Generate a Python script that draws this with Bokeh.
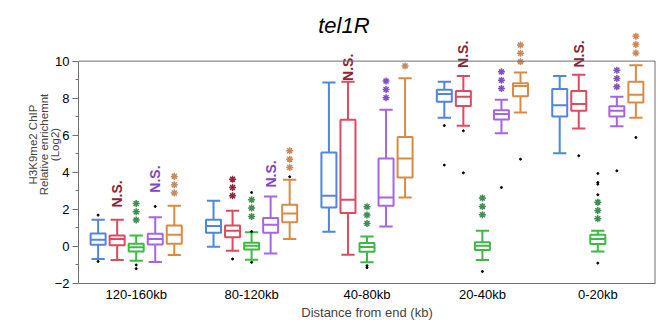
import numpy as np
from bokeh.plotting import figure
from bokeh.models import Range1d, FixedTicker, ColumnDataSource, Span
from bokeh.core.properties import value
from bokeh.embed import file_html
from bokeh.resources import INLINE

categories = ["120-160kb", "80-120kb", "40-80kb", "20-40kb", "0-20kb"]
series_names = ["s1", "s2", "s3", "s4", "s5"]
series_colors = ["#4f86df", "#de4a60", "#3dba45", "#a665e3", "#d98b43"]

# [whisker low, Q1, median, Q3, whisker high] per category
s1_stats = [[-0.68, 0.09, 0.36, 0.70, 1.44], [-0.02, 0.74, 1.10, 1.44, 2.46],
            [0.79, 2.10, 2.73, 5.07, 8.84], [6.95, 7.80, 8.22, 8.45, 8.88],
            [5.03, 7.01, 7.62, 8.50, 9.20]]
s2_stats = [[-0.73, 0.07, 0.40, 0.59, 1.44], [-0.23, 0.49, 0.85, 1.13, 1.92],
            [-0.45, 1.80, 2.52, 6.83, 8.88], [6.51, 7.58, 8.07, 8.39, 9.20],
            [6.36, 7.32, 7.68, 8.39, 9.26]]
s3_stats = [[-0.77, -0.27, -0.05, 0.15, 0.59], [-0.72, -0.16, 0.04, 0.20, 0.76],
            [-0.86, -0.29, -0.03, 0.18, 0.54], [-0.73, -0.19, 0.04, 0.22, 0.85],
            [-0.27, 0.13, 0.40, 0.63, 0.85]]
s4_stats = [[-0.84, 0.11, 0.40, 0.68, 1.58], [-0.38, 0.74, 1.17, 1.53, 2.70],
            [1.08, 2.19, 2.64, 4.74, 7.37], [6.11, 6.85, 7.14, 7.35, 7.91],
            [6.49, 7.01, 7.32, 7.57, 8.07]]
s5_stats = [[-0.46, 0.15, 0.63, 1.13, 2.19], [0.40, 1.31, 1.78, 2.25, 3.60],
            [2.64, 3.72, 4.74, 5.91, 9.08], [7.22, 8.11, 8.65, 8.81, 9.38],
            [6.95, 7.76, 8.18, 8.88, 9.78]]
all_stats = [s1_stats, s2_stats, s3_stats, s4_stats, s5_stats]

# outliers: category index, series index, value
outlier_cat = [0, 0, 0, 0, 0, 1, 1, 1, 1, 1, 2, 2, 3, 3, 3, 3, 3, 3, 3,
               4, 4, 4, 4, 4, 4, 4, 4, 4]
outlier_ser = [0, 0, 2, 2, 3, 1, 2, 2, 2, 4, 2, 2, 0, 0, 1, 1, 2, 3, 4,
               1, 2, 2, 2, 2, 2, 2, 3, 4]
outlier_val = [1.69, -0.81, -1.0, -1.2, 2.16, -0.68, 2.91, 0.80, -0.86, 3.76,
               -1.04, -1.15, 6.52, 4.39, 6.24, 3.97, -1.35, 3.18, 4.71,
               4.89, 3.94, 3.45, 3.36, 2.79, 2.46, -0.90, 4.08, 5.88]

# significance stars: category, series, number of stars, lowest star value
star_cat = [0, 0, 1, 1, 1, 2, 2, 2, 3, 3, 3, 4, 4, 4]
star_ser = [2, 4, 1, 2, 4, 2, 3, 4, 2, 3, 4, 2, 3, 4]
star_n = [3, 3, 3, 3, 3, 3, 3, 1, 3, 3, 3, 3, 3, 3]
star_base = [1.42, 2.88, 2.73, 1.62, 4.26, 1.24, 8.02, 9.74, 1.71, 8.52, 9.97,
             1.49, 8.61, 10.44]
star_colors = ["#4f86df", "#8e2a3c", "#3f8f52", "#8150c6", "#c98a5c"]

# "N.S." labels: category, series, bottom value
ns_cat = [0, 0, 1, 2, 3, 4]
ns_ser = [1, 3, 3, 1, 1, 1]
ns_base = [2.1, 2.9, 3.18, 8.93, 9.63, 9.65]
ns_colors = ["#4f86df", "#8b2335", "#3f8f52", "#7d47c2", "#c98a5c"]

title_text = "tel1R"

SPACING = 0.165
BOX_W = 0.13
CAP_W = 0.115
Y_TOP = 10

def xpos(ci, si):
    return ci + 0.5 + (si - 2) * SPACING

p = figure(width=661, height=323, output_backend="svg", toolbar_location=None,
           x_range=Range1d(0, 5), y_range=Range1d(-2, 13),
           min_border_left=78, min_border_right=6, min_border_top=5,
           min_border_bottom=40)
p.xgrid.visible = False
p.ygrid.visible = False
p.outline_line_color = None
p.background_fill_color = "white"
p.border_fill_color = "white"

FRAME_COL = "#707070"
p.add_layout(Span(location=Y_TOP, dimension="width", line_color=FRAME_COL, line_width=1))
p.segment(x0=[5], x1=[5], y0=[-2], y1=[Y_TOP], line_color=FRAME_COL, line_width=2)

for si, stats in enumerate(all_stats):
    col = series_colors[si]
    xs = [xpos(ci, si) for ci in range(len(categories))]
    lo = [s[0] for s in stats]
    q1 = [s[1] for s in stats]
    med = [s[2] for s in stats]
    q3 = [s[3] for s in stats]
    hi = [s[4] for s in stats]
    src = ColumnDataSource(dict(x=xs, lo=lo, q1=q1, med=med, q3=q3, hi=hi,
                                xl=[x - CAP_W / 2 for x in xs],
                                xr=[x + CAP_W / 2 for x in xs],
                                bl=[x - BOX_W / 2 for x in xs],
                                br=[x + BOX_W / 2 for x in xs]))
    p.segment(x0="x", x1="x", y0="lo", y1="q1", source=src, line_color=col, line_width=2)
    p.segment(x0="x", x1="x", y0="q3", y1="hi", source=src, line_color=col, line_width=2)
    p.segment(x0="xl", x1="xr", y0="lo", y1="lo", source=src, line_color=col, line_width=2)
    p.segment(x0="xl", x1="xr", y0="hi", y1="hi", source=src, line_color=col, line_width=2)
    p.vbar(x="x", width=BOX_W, bottom="q1", top="q3", source=src,
           fill_color="white", line_color=col, line_width=2)
    p.segment(x0="bl", x1="br", y0="med", y1="med", source=src, line_color=col, line_width=2)

ox = [xpos(c, s) for c, s in zip(outlier_cat, outlier_ser)]
p.scatter(ox, outlier_val, size=2, color="black")

STAR_STEP = 0.45
sx, sy, sc = [], [], []
for c, s, n, b in zip(star_cat, star_ser, star_n, star_base):
    for k in range(n):
        sx.append(xpos(c, s))
        sy.append(b + k * STAR_STEP)
        sc.append(star_colors[s])
p.scatter(sx, sy, marker="asterisk", size=7, line_width=1.5, line_color=sc)

nx = [xpos(c, s) for c, s in zip(ns_cat, ns_ser)]
ncol = [ns_colors[s] for s in ns_ser]
p.text(nx, ns_base, text=["N.S."] * len(nx), angle=np.pi / 2,
       text_align="left", text_baseline="middle", text_color=ncol,
       text_font=value("Liberation Sans"), text_font_style="bold",
       text_font_size="14px")

p.text([2.3], [11.9], text=[title_text], text_align="center",
       text_baseline="alphabetic", text_color="black",
       text_font=value("Liberation Sans"), text_font_style="italic",
       text_font_size="22px")

p.xaxis.ticker = FixedTicker(ticks=[i + 0.5 for i in range(len(categories))])
p.xaxis.major_label_overrides = {i + 0.5: c for i, c in enumerate(categories)}
p.xaxis.major_tick_line_color = None
p.xaxis.minor_tick_line_color = None
p.xaxis.major_tick_out = 0
p.xaxis.major_tick_in = 0
p.xaxis.minor_tick_out = 0
p.xaxis.minor_tick_in = 0
p.xaxis.axis_line_color = FRAME_COL
p.xaxis.major_label_text_font = "Liberation Sans"
p.xaxis.major_label_text_font_size = "13px"
p.xaxis.major_label_text_color = "black"
p.xaxis.major_label_standoff = 3
p.xaxis.axis_label = "Distance from end (kb)"
p.xaxis.axis_label_text_font = "Liberation Sans"
p.xaxis.axis_label_text_font_size = "13px"
p.xaxis.axis_label_text_font_style = "normal"
p.xaxis.axis_label_standoff = 0

p.yaxis.bounds = (-2, Y_TOP)
p.yaxis.ticker = FixedTicker(ticks=[-2, 0, 2, 4, 6, 8, 10],
                             minor_ticks=[-1, 1, 3, 5, 7, 9])
p.yaxis.axis_line_color = FRAME_COL
p.yaxis.major_tick_line_color = FRAME_COL
p.yaxis.minor_tick_line_color = FRAME_COL
p.yaxis.major_tick_out = 6
p.yaxis.major_tick_in = 0
p.yaxis.minor_tick_out = 3
p.yaxis.minor_tick_in = 0
p.yaxis.major_label_text_font = "Liberation Sans"
p.yaxis.major_label_text_font_size = "13px"
p.yaxis.major_label_text_color = "black"
p.yaxis.major_label_standoff = 3
p.yaxis.axis_label = "H3K9me2 ChIP\nRelative enrichemnt\n(Log2)"
p.yaxis.axis_label_text_font = "Liberation Sans"
p.yaxis.axis_label_text_font_size = "11.5px"
p.yaxis.axis_label_text_line_height = 0.92
p.yaxis.axis_label_text_font_style = "normal"
p.yaxis.axis_label_standoff = -9

open("out.html", "w").write(file_html(p, INLINE))
